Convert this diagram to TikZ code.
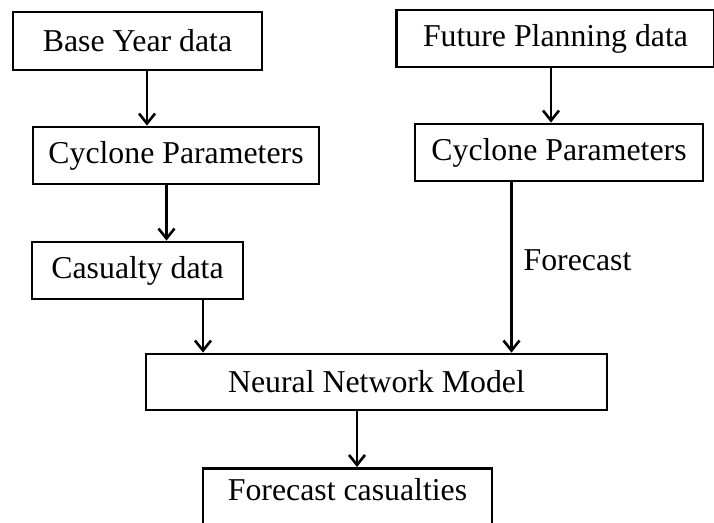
\documentclass[tikz,border=0pt]{standalone}
\usepackage{fontspec}
\setmainfont{Liberation Serif}
\usetikzlibrary{arrows.meta}

\begin{document}
\begin{tikzpicture}[x=1pt,y=-1pt,
  box/.style={draw=black, line width=2.8pt, rectangle, inner sep=0pt,
    font=\fontsize{31.8}{36}\selectfont},
  arr/.style={draw=black, line width=2.2pt,
    -{Straight Barb[length=10pt,width=16pt,line width=2.6pt]}},
  lbl/.style={font=\fontsize{31.8}{36}\selectfont, inner sep=0pt}
]
\useasboundingbox (0,0) rectangle (714,522);
\clip (0,0) rectangle (714,522);

% input boxes
\node[box, minimum width=249pt, minimum height=58pt] (base) at (137.5,41) {Base Year data};
\node[box, minimum width=318pt, minimum height=57pt] (future) at (555.5,38.5) {Future Planning data};

% cyclone parameter boxes
\node[box, minimum width=286pt, minimum height=57pt] (cycL) at (176,155.5) {Cyclone Parameters};
\node[box, minimum width=288pt, minimum height=57pt] (cycR) at (559,152.5) {Cyclone Parameters};

% casualty data
\node[box, minimum width=211pt, minimum height=57pt] (cas) at (137.5,270.5) {Casualty data};

% model
\node[box, minimum width=461pt, minimum height=56pt] (nn) at (376.5,382) {Neural Network Model};

% output box (runs off the lower edge)
\node[box, anchor=north, minimum width=289pt, text height=32pt, text depth=28pt] (fc) at (347.5,467) {Forecast casualties};

% connectors
\draw[arr] ([xshift=9.5pt]base.south) -- ([xshift=9.5pt]base.south |- cycL.north);
\draw[arr] ([xshift=-9.5pt]cycL.south) -- ([xshift=-9.5pt]cycL.south |- cas.north);
\draw[arr] ([xshift=65.5pt]cas.south) -- ([xshift=65.5pt]cas.south |- nn.north);
\draw[arr] ([xshift=-4.5pt]future.south) -- ([xshift=-4.5pt]future.south |- cycR.north);
\draw[arr] ([xshift=-47.5pt]cycR.south) -- ([xshift=-47.5pt]cycR.south |- nn.north)
  node[lbl, pos=0.46, anchor=west, xshift=11pt] {Forecast};
\draw[arr] ([xshift=-19.5pt]nn.south) -- ([xshift=-19.5pt]nn.south |- fc.north);
\end{tikzpicture}
\end{document}
